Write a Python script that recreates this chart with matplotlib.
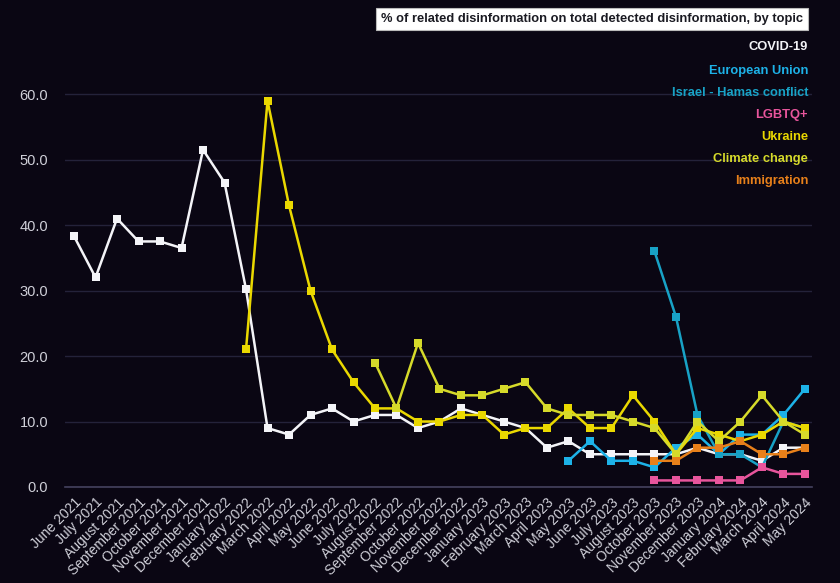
import numpy as np
import matplotlib.pyplot as plt

plt.rcParams['font.family'] = ['Liberation Sans', 'DejaVu Sans']

months = ['June 2021', 'July 2021', 'August 2021', 'September 2021', 'October 2021',
          'November 2021', 'December 2021', 'January 2022', 'February 2022', 'March 2022',
          'April 2022', 'May 2022', 'June 2022', 'July 2022', 'August 2022',
          'September 2022', 'October 2022', 'November 2022', 'December 2022',
          'January 2023', 'February 2023', 'March 2023', 'April 2023', 'May 2023',
          'June 2023', 'July 2023', 'August 2023', 'October 2023', 'November 2023',
          'December 2023', 'January 2024', 'February 2024', 'March 2024', 'April 2024',
          'May 2024']
n = len(months)
nan = np.nan

covid = [38.3, 32, 41, 37.5, 37.5, 36.5, 51.5, 46.5, 30.2, 9, 8, 11, 12, 10, 11, 11, 9,
         10, 12, 11, 10, 9, 6, 7, 5, 5, 5, 5, 5, 6, 5, 5, 4, 6, 6]
eu = [nan] * 23 + [4, 7, 4, 4, 3, 6, 8, 5, 8, 8, 11, 15]
israel = [nan] * 27 + [36, 26, 11, 5, 5, 3, 10, 9]
lgbtq = [nan] * 27 + [1, 1, 1, 1, 1, 3, 2, 2]
ukraine = [nan] * 8 + [21, 59, 43, 30, 21, 16, 12, 12, 10, 10, 11, 11, 8, 9, 9, 12, 9, 9,
                       14, 10, 5, 9, 8, 7, 8, 10, 9]
climate = [nan] * 14 + [19, 12, 22, 15, 14, 14, 15, 16, 12, 11, 11, 11, 10, 9, 5, 10, 7,
                        10, 14, 10, 8]
immigration = [nan] * 27 + [4, 4, 6, 6, 7, 5, 5, 6]

topics = ['COVID-19', 'European Union', 'Israel - Hamas conflict', 'LGBTQ+',
          'Ukraine', 'Climate change', 'Immigration']
series = [covid, eu, israel, lgbtq, ukraine, climate, immigration]
colors = ['#f4f4f8', '#1db2e8', '#18a2c6', '#e8559c', '#ead800', '#d6da2a', '#e8801a']

bg = '#0a0613'
fig = plt.figure(figsize=(8.4, 5.83), dpi=100, facecolor=bg)
ax = fig.add_axes([0.0774, 0.1647, 0.8893, 0.6963], facecolor=bg)

x = np.arange(n)
draw_order = [0, 4, 5, 3, 6, 1, 2]
for i in draw_order:
    ax.plot(x, series[i], color=colors[i], lw=1.8, marker='s', ms=6,
            markeredgewidth=0, zorder=3 + i * 0.1)

ax.set_xlim(-0.42, 34.33)
ax.set_ylim(0, 62)
ax.set_yticks(np.arange(0, 61, 10))
ax.set_yticklabels([f'{v:.1f}' for v in np.arange(0, 61, 10)])
ax.set_xticks(x)
ax.set_xticklabels(months, rotation=45, ha='right', rotation_mode='anchor')
ax.tick_params(axis='x', colors='#cfcfd8', labelsize=10, length=0, pad=6)
ax.tick_params(axis='y', colors='#cfcfd8', labelsize=10.5, length=0, pad=12)
ax.grid(axis='y', color='#24223a', lw=1)
ax.set_axisbelow(True)
for s in ['top', 'right', 'left']:
    ax.spines[s].set_visible(False)
ax.spines['bottom'].set_color('#44425e')
ax.spines['bottom'].set_linewidth(1.2)

fig.text(803 / 840, 1 - 19 / 583,
         '% of related disinformation on total detected disinformation, by topic',
         ha='right', va='center', fontsize=9.3, fontweight='bold', color='#1a1a22',
         bbox=dict(boxstyle='square,pad=0.35', fc='white', ec='#bbbbbb', lw=0.8))

legend_y = [47, 71, 93, 115, 137, 159, 181]
for t, c, yy in zip(topics, colors, legend_y):
    fig.text(808 / 840, 1 - yy / 583, t, ha='right', va='center', fontsize=9.3,
             fontweight='bold', color=c)

fig.savefig('out.png', dpi=100, facecolor=bg)
